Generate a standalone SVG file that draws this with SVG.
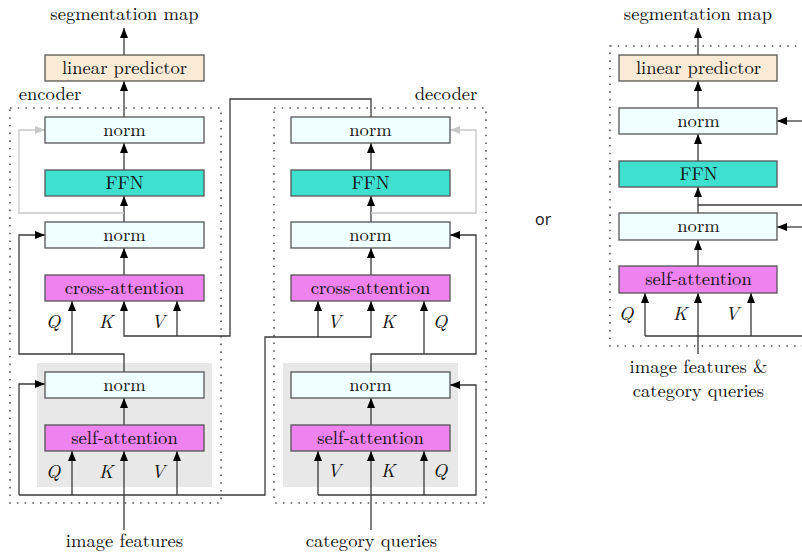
<svg xmlns="http://www.w3.org/2000/svg" width="802" height="555" viewBox="0 0 802 555" font-family="Latin Modern Roman, Liberation Serif, serif">
<defs>
<style>
.t{font-size:18.6px;fill:#111;text-anchor:middle}
.q{font-size:19px;font-style:italic;fill:#111;text-anchor:middle}
.box{stroke:#555;stroke-width:1.3}
.lp{fill:#faebd7}.nm{fill:#f0ffff}.ffn{fill:#40e0d0}.att{fill:#ee82ee}
.grp{fill:#e8e8e8}
.dot{fill:none;stroke:#555;stroke-width:1.6;stroke-dasharray:1.6 6.1}
.c{fill:none;stroke:#3a3a3a;stroke-width:1.3}
.ca{fill:none;stroke:#3a3a3a;stroke-width:1.3;marker-end:url(#ah)}
.g{fill:none;stroke:#c8c8c8;stroke-width:1.3;marker-end:url(#ahg)}
</style>
<marker id="ah" markerUnits="userSpaceOnUse" markerWidth="11" markerHeight="9" refX="10" refY="4" orient="auto"><path d="M0,0 L10,4 L0,8 z" fill="#000"/></marker>
<marker id="ahg" markerUnits="userSpaceOnUse" markerWidth="11" markerHeight="9" refX="10" refY="4" orient="auto"><path d="M0,0 L10,4 L0,8 z" fill="#c8c8c8"/></marker>
</defs>
<rect width="802" height="555" fill="#fff"/>

<!-- containers -->
<g id="encoder">
<rect class="dot" x="10" y="108" width="211" height="395"/>
<text class="t" x="50" y="99.5">encoder</text>
<rect class="grp" x="37" y="363" width="175" height="124"/>
</g>
<g id="decoder">
<rect class="dot" x="274" y="108" width="212" height="395"/>
<text class="t" x="446" y="99.5">decoder</text>
<rect class="grp" x="283" y="363" width="175" height="124"/>
</g>
<g id="combined">
<rect class="dot" x="610" y="46" width="220" height="300"/>
</g>

<!-- connectors -->
<g id="connectors">
<path class="ca" d="M124,55 V28"/>
<path class="ca" d="M124,117 V81"/>
<path class="ca" d="M124,170 V143"/>
<path class="ca" d="M124,222 V196"/>
<path class="g" d="M124,213 H19 V130 H45"/>
<path class="ca" d="M124,275 V248"/>
<path class="ca" d="M371,117 V99 H230 V336 H124 V301"/>
<path class="ca" d="M177,336 V301"/>
<path class="ca" d="M124,372 V354 H19 V235 H45"/>
<path class="ca" d="M72,354 V301"/>
<path class="ca" d="M124,425 V398"/>
<path class="ca" d="M124,530 V451"/>
<path class="ca" d="M72,495 V451"/>
<path class="ca" d="M177,495 V451"/>
<path class="ca" d="M19,495 V384 H45"/>
<path class="ca" d="M19,495 H265 V337 H371 V301"/>
<path class="ca" d="M318,337 V301"/>

<path class="ca" d="M371,170 V143"/>
<path class="ca" d="M371,222 V196"/>
<path class="g" d="M371,213 H476 V130 H450"/>
<path class="ca" d="M371,275 V248"/>
<path class="ca" d="M371,372 V354 H476 V235 H450"/>
<path class="ca" d="M424,354 V301"/>
<path class="ca" d="M371,425 V398"/>
<path class="ca" d="M371,530 V451"/>
<path class="ca" d="M318,495 V451"/>
<path class="ca" d="M424,495 V451"/>
<path class="ca" d="M318,495 H476 V385 H450"/>

<path class="ca" d="M698,55 V28"/>
<path class="ca" d="M698,108 V81"/>
<path class="ca" d="M698,161 V134"/>
<path class="ca" d="M698,213 V187"/>
<path class="ca" d="M802,121 H777"/>
<path class="c" d="M698,205 H802"/>
<path class="ca" d="M802,227 H777"/>
<path class="ca" d="M698,266 V240"/>
<path class="ca" d="M698,354 V293"/>
<path class="ca" d="M645,336 V293"/>
<path class="ca" d="M751,336 V293"/>
<path class="c" d="M645,336 H802"/>
</g>

<!-- encoder nodes -->
<g id="enc-linear"><rect class="box lp" x="45" y="55" width="159" height="26"/><text class="t" x="124.5" y="73.5">linear predictor</text></g>
<g id="enc-norm-out"><rect class="box nm" x="45" y="117" width="159" height="26"/><text class="t" x="124.5" y="135.5">norm</text></g>
<g id="enc-ffn"><rect class="box ffn" x="45" y="170" width="159" height="26"/><text class="t" x="124.5" y="189">FFN</text></g>
<g id="enc-norm-mid"><rect class="box nm" x="45" y="222" width="159" height="26"/><text class="t" x="124.5" y="240.5">norm</text></g>
<g id="enc-cross"><rect class="box att" x="45" y="275" width="159" height="26"/><text class="t" x="124.5" y="293.5">cross-attention</text></g>
<g id="enc-norm-in"><rect class="box nm" x="45" y="372" width="159" height="26"/><text class="t" x="124.5" y="390.5">norm</text></g>
<g id="enc-self"><rect class="box att" x="45" y="425" width="159" height="26"/><text class="t" x="124.5" y="443.5">self-attention</text></g>

<!-- decoder nodes -->
<g id="dec-norm-out"><rect class="box nm" x="291" y="117" width="159" height="26"/><text class="t" x="370.5" y="135.5">norm</text></g>
<g id="dec-ffn"><rect class="box ffn" x="291" y="170" width="159" height="26"/><text class="t" x="370.5" y="189">FFN</text></g>
<g id="dec-norm-mid"><rect class="box nm" x="291" y="222" width="159" height="26"/><text class="t" x="370.5" y="240.5">norm</text></g>
<g id="dec-cross"><rect class="box att" x="291" y="275" width="159" height="26"/><text class="t" x="370.5" y="293.5">cross-attention</text></g>
<g id="dec-norm-in"><rect class="box nm" x="291" y="372" width="159" height="26"/><text class="t" x="370.5" y="390.5">norm</text></g>
<g id="dec-self"><rect class="box att" x="291" y="425" width="159" height="26"/><text class="t" x="370.5" y="443.5">self-attention</text></g>

<!-- right panel nodes -->
<g id="r-linear"><rect class="box lp" x="619" y="55" width="158" height="26"/><text class="t" x="698.5" y="73.5">linear predictor</text></g>
<g id="r-norm-out"><rect class="box nm" x="619" y="108" width="158" height="26"/><text class="t" x="698.5" y="126.5">norm</text></g>
<g id="r-ffn"><rect class="box ffn" x="619" y="161" width="158" height="26"/><text class="t" x="698.5" y="180">FFN</text></g>
<g id="r-norm"><rect class="box nm" x="619" y="213" width="158" height="27"/><text class="t" x="698.5" y="232">norm</text></g>
<g id="r-self"><rect class="box att" x="619" y="266" width="158" height="27"/><text class="t" x="698.5" y="285">self-attention</text></g>

<!-- labels -->
<g id="labels">
<text class="t" x="124.5" y="20">segmentation map</text>
<text class="t" x="124.5" y="547">image features</text>
<text class="t" x="371.5" y="547">category queries</text>
<text class="t" x="698" y="20">segmentation map</text>
<text class="t" x="698.5" y="373">image features &amp;</text>
<text class="t" x="698.5" y="396.5">category queries</text>
<text x="535" y="225" font-family="Open Sans, Noto Sans, sans-serif" font-size="16" fill="#111">or</text>
<text class="q" x="53" y="328">Q</text>
<text class="q" x="106" y="328">K</text>
<text class="q" x="158" y="328">V</text>
<text class="q" x="53" y="478">Q</text>
<text class="q" x="106" y="478">K</text>
<text class="q" x="158" y="478">V</text>
<text class="q" x="334" y="328">V</text>
<text class="q" x="388" y="328">K</text>
<text class="q" x="440" y="328">Q</text>
<text class="q" x="334" y="477">V</text>
<text class="q" x="388" y="477">K</text>
<text class="q" x="440" y="477">Q</text>
<text class="q" x="626" y="320">Q</text>
<text class="q" x="680" y="320">K</text>
<text class="q" x="732" y="320">V</text>
</g>
</svg>
